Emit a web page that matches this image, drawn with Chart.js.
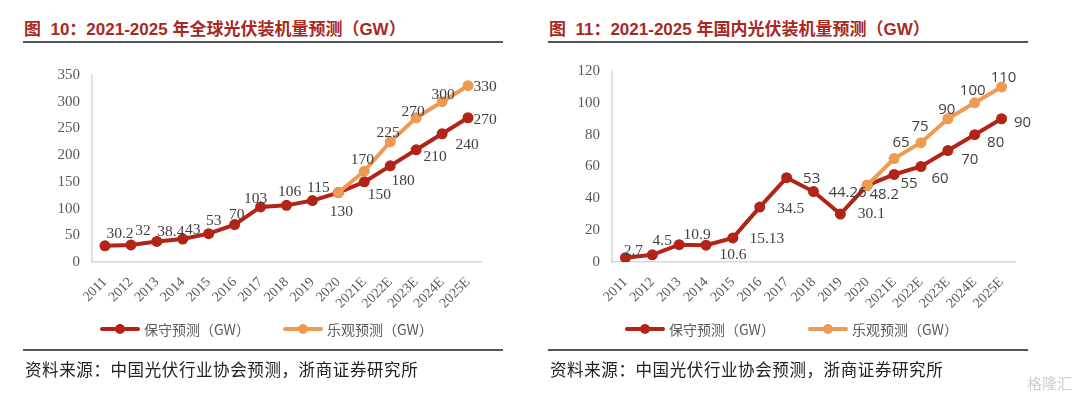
<!DOCTYPE html>
<html>
<head>
<meta charset="utf-8">
<script src="https://cdn.jsdelivr.net/npm/chart.js@4"></script>
<style>
  body { margin: 0; background: #fff; }
  #page { position: relative; width: 1080px; height: 399px; overflow: hidden; background: #fff; }
  .title { position: absolute; top: 15px; font: bold 17px "Liberation Sans", "Noto Sans CJK SC", sans-serif; color: #a8291f; white-space: nowrap; }
  .rule { position: absolute; height: 0; border-top: 2px solid #555; width: 480px; }
  .box { position: absolute; top: 50px; width: 480px; height: 270px; }
  .legend { position: absolute; top: 320px; height: 18px; font: 14px "Noto Sans CJK SC", sans-serif; color: #595959; white-space: nowrap; }
  .legend .item { position: absolute; top: 0; }
  .legend .swatch { position: absolute; top: 7px; width: 40px; height: 4px; border-radius: 2px; }
  .legend .dot { position: absolute; top: 4px; left: 15px; width: 10px; height: 10px; border-radius: 5px; }
  .legend .txt { position: absolute; left: 44px; top: -1px; }
  .source { position: absolute; top: 357px; font: 16.5px "Noto Sans CJK SC", sans-serif; color: #222; white-space: nowrap; letter-spacing: 0.6px; }
  .mark { position: absolute; right: 8px; bottom: 6px; font: 15px "Noto Sans CJK SC", sans-serif; color: #cfcfcf; }
</style>
</head>
<body>
<div id="page">
  <div class="title" style="left:24px">图&nbsp; 10：2021-2025 年全球光伏装机量预测（GW）</div>
  <div class="rule" style="left:23px; top:41px"></div>
  <div class="box" style="left:30px"><canvas id="chartGlobal"></canvas></div>
  <div class="legend" style="left:100px">
    <div class="item" style="left:0"><div class="swatch" style="background:#b22418"></div><div class="dot" style="background:#b22418"></div><div class="txt">保守预测（GW）</div></div>
    <div class="item" style="left:183px"><div class="swatch" style="background:#ee9a52"></div><div class="dot" style="background:#ee9a52"></div><div class="txt">乐观预测（GW）</div></div>
  </div>
  <div class="rule" style="left:23px; top:349px"></div>
  <div class="source" style="left:25px">资料来源：中国光伏行业协会预测，浙商证券研究所</div>

  <div class="title" style="left:549px">图&nbsp; 11：2021-2025 年国内光伏装机量预测（GW）</div>
  <div class="rule" style="left:548px; top:41px"></div>
  <div class="box" style="left:555px"><canvas id="chartChina"></canvas></div>
  <div class="legend" style="left:625px">
    <div class="item" style="left:0"><div class="swatch" style="background:#b22418"></div><div class="dot" style="background:#b22418"></div><div class="txt">保守预测（GW）</div></div>
    <div class="item" style="left:183px"><div class="swatch" style="background:#ee9a52"></div><div class="dot" style="background:#ee9a52"></div><div class="txt">乐观预测（GW）</div></div>
  </div>
  <div class="rule" style="left:548px; top:349px"></div>
  <div class="source" style="left:550px">资料来源：中国光伏行业协会预测，浙商证券研究所</div>
  <div class="mark">格隆汇</div>
</div>

<script>
// categories
const years = ['2011', '2012', '2013', '2014', '2015', '2016', '2017', '2018', '2019', '2020',
  '2021E', '2022E', '2023E', '2024E', '2025E'];

// global installations (GW)
const globalConservative = [30.2, 32, 38.4, 43, 53, 70, 103, 106, 115, 130, 150, 180, 210, 240, 270];
const globalOptimistic = [null, null, null, null, null, null, null, null, null, 130, 170, 225, 270, 300, 330];

// China installations (GW)
const chinaConservative = [2.7, 4.5, 10.9, 10.6, 15.13, 34.5, 53, 44.26, 30.1, 48.2, 55, 60, 70, 80, 90];
const chinaOptimistic = [null, null, null, null, null, null, null, null, null, 48.2, 65, 75, 90, 100, 110];

// label offsets from each point [dx, dy], null = no label
const globalConsOffsets = [[15, -12], [12, -14], [14, -10], [10, -9], [5, -13], [2, -10], [-5, -8], [3, -13],
  [6, -13], [3, 19], [15, 13], [13, 15], [19, 7], [25, 11], [17, 2]];
const globalOptOffsets = [null, null, null, null, null, null, null, null, null, null,
  [-2, -11], [-2, -9], [-3, -6], [1, -7], [17, 1]];
const chinaConsOffsets = [[8, -7], [10, -14], [18, -10], [27, 10], [34, 1], [31, 2], [25, 1], [34, 1],
  [31, 0], [17, 9], [15, 9], [19, 12], [22, 9], [21, 8], [21, 4]];
const chinaOptOffsets = [null, null, null, null, null, null, null, null, null, null,
  [7, -16], [-1, -16], [-1, -9], [-2, -12], [2, -9]];
const chinaSansLabels = [6, 7, 9, 10, 11, 12, 13, 14];

const RED = '#b22418';
const ORANGE = '#ee9a52';
const SERIF = '"Liberation Serif", "Times New Roman", serif';
const SANS = '"Open Sans", "Liberation Sans", sans-serif';

const pointLabels = {
  id: 'pointLabels',
  afterDatasetsDraw(chart) {
    const ctx = chart.ctx;
    ctx.save();
    ctx.fillStyle = '#404040';
    ctx.textAlign = 'center';
    ctx.textBaseline = 'middle';
    chart.data.datasets.forEach((ds, i) => {
      const meta = chart.getDatasetMeta(i);
      meta.data.forEach((pt, j) => {
        const off = ds.labelOffsets[j];
        if (!off || ds.data[j] == null) return;
        const sans = ds.sansLabels === 'all' || (ds.sansLabels || []).includes(j);
        ctx.font = sans ? '15px ' + SANS : '15.5px ' + SERIF;
        ctx.fillText(String(ds.data[j]), pt.x + off[0], pt.y + off[1]);
      });
    });
    ctx.restore();
  }
};

function lineSet(label, data, color, offsets, order, sansLabels) {
  return {
    label: label,
    data: data,
    borderColor: color,
    backgroundColor: color,
    borderWidth: 4,
    pointRadius: 5.5,
    pointHoverRadius: 5.5,
    pointBorderWidth: 0,
    tension: 0,
    spanGaps: false,
    order: order,
    labelOffsets: offsets,
    sansLabels: sansLabels
  };
}

function makeChart(id, cons, opt, consOff, optOff, yMax, yStep, yWidth, pad, optSans, consSans) {
  return new Chart(document.getElementById(id), {
    type: 'line',
    data: {
      labels: years,
      datasets: [
        lineSet('保守预测（GW）', cons, RED, consOff, 1, consSans),
        lineSet('乐观预测（GW）', opt, ORANGE, optOff, 0, optSans)
      ]
    },
    options: {
      responsive: false,
      animation: false,
      devicePixelRatio: 1,
      layout: { padding: pad },
      plugins: { legend: { display: false }, tooltip: { enabled: false } },
      scales: {
        x: {
          offset: true,
          afterFit: s => { s.height = 58; },
          grid: { display: true, color: 'rgba(0,0,0,0)', drawTicks: false, offset: true },
          border: { display: true, color: '#d9d9d9', width: 1.5 },
          ticks: {
            color: '#595959', font: { family: SERIF, size: 14 },
            minRotation: 45, maxRotation: 45, autoSkip: false, padding: 12
          }
        },
        y: {
          min: 0, max: yMax,
          afterFit: s => { s.width = yWidth; },
          grid: { display: true, color: 'rgba(0,0,0,0)', drawTicks: false },
          border: { display: true, color: '#d9d9d9', width: 1.5 },
          ticks: { stepSize: yStep, color: '#595959', font: { family: SERIF, size: 15 }, padding: 12 }
        }
      }
    },
    plugins: [pointLabels]
  });
}

document.getElementById('chartGlobal').width = 480;
document.getElementById('chartGlobal').height = 270;
document.getElementById('chartChina').width = 480;
document.getElementById('chartChina').height = 270;

makeChart('chartGlobal', globalConservative, globalOptimistic, globalConsOffsets, globalOptOffsets,
  350, 50, 62, { top: 25, right: 29, left: 0, bottom: 0 }, [], []);
makeChart('chartChina', chinaConservative, chinaOptimistic, chinaConsOffsets, chinaOptOffsets,
  120, 20, 57, { top: 21, right: 20, left: 0, bottom: 0 }, 'all', chinaSansLabels);
</script>
</body>
</html>
